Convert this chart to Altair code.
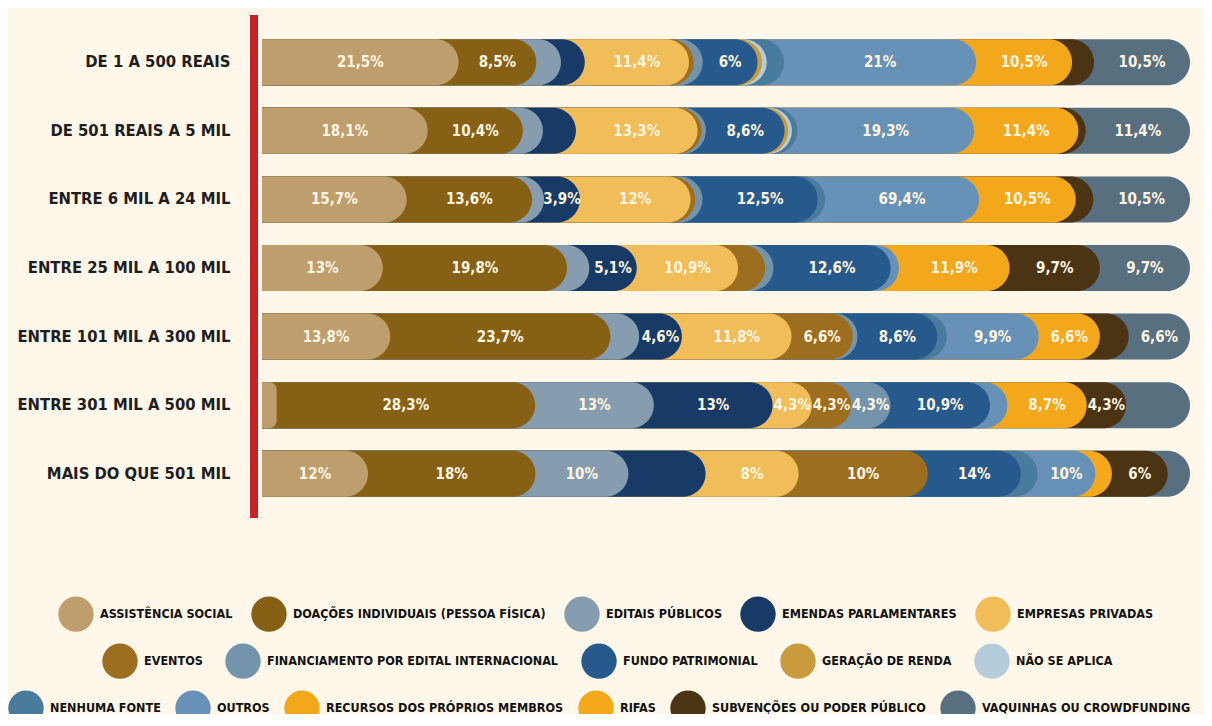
import altair as alt
import pandas as pd

FONT = "DejaVu Sans Condensed, sans-serif"

rows = [
    "DE 1 A 500 REAIS",
    "DE 501 REAIS A 5 MIL",
    "ENTRE 6 MIL A 24 MIL",
    "ENTRE 25 MIL A 100 MIL",
    "ENTRE 101 MIL A 300 MIL",
    "ENTRE 301 MIL A 500 MIL",
    "MAIS DO QUE 501 MIL",
]

categories = [
    "ASSISTÊNCIA SOCIAL",
    "DOAÇÕES INDIVIDUAIS (PESSOA FÍSICA)",
    "EDITAIS PÚBLICOS",
    "EMENDAS PARLAMENTARES",
    "EMPRESAS PRIVADAS",
    "EVENTOS",
    "FINANCIAMENTO POR EDITAL INTERNACIONAL",
    "FUNDO PATRIMONIAL",
    "GERAÇÃO DE RENDA",
    "NÃO SE APLICA",
    "NENHUMA FONTE",
    "OUTROS",
    "RECURSOS DOS PRÓPRIOS MEMBROS",
    "RIFAS",
    "SUBVENÇÕES OU PODER PÚBLICO",
    "VAQUINHAS OU CROWDFUNDING",
]

colors = [
    "#BE9E6D", "#866014", "#869DB0", "#173A66", "#F0BD59", "#9D6E1F",
    "#7394AB", "#265A8C", "#C99B3D", "#B5CCDA", "#497B9C", "#6891B8",
    "#F3A81B", "#F4A91B", "#4A3414", "#586F7F",
]

# segment widths (share of each row)
values_r1 = [21.5, 8.5, 2.7, 2.6, 11.4, 0.5, 1.0, 6.0, 0.5, 0.5, 1.9, 21.0, 10.5, 0, 2.4, 10.5]
values_r2 = [18.1, 10.4, 2.2, 3.6, 13.3, 0.4, 0.5, 8.6, 0.4, 0.4, 0.6, 19.3, 11.4, 0, 0.8, 11.4]
values_r3 = [15.7, 13.6, 1.3, 3.9, 12.0, 0.5, 0.8, 12.5, 0, 0, 0.8, 16.7, 10.5, 0, 1.9, 10.5]
values_r4 = [13.0, 19.8, 2.4, 5.1, 10.9, 2.9, 0.9, 12.6, 0, 0, 0, 0.9, 11.9, 0, 9.7, 9.7]
values_r5 = [13.8, 23.7, 3.1, 4.6, 11.8, 6.6, 0.5, 8.6, 0, 0, 1.0, 9.9, 6.6, 0, 3.1, 6.6]
values_r6 = [1.6, 28.3, 13.0, 13.0, 4.3, 4.3, 4.3, 10.9, 0, 0, 0, 1.9, 8.7, 0, 4.3, 7.0]
values_r7 = [11.4, 18.0, 10.0, 8.3, 10.0, 13.9, 0, 10.0, 0, 0, 1.8, 6.2, 0, 1.8, 6.0, 2.4]

# printed labels
labels_r1 = ["21,5%", "8,5%", "", "", "11,4%", "", "", "6%", "", "", "", "21%", "10,5%", "", "", "10,5%"]
labels_r2 = ["18,1%", "10,4%", "", "", "13,3%", "", "", "8,6%", "", "", "", "19,3%", "11,4%", "", "", "11,4%"]
labels_r3 = ["15,7%", "13,6%", "", "3,9%", "12%", "", "", "12,5%", "", "", "", "69,4%", "10,5%", "", "", "10,5%"]
labels_r4 = ["13%", "19,8%", "", "5,1%", "10,9%", "", "", "12,6%", "", "", "", "", "11,9%", "", "9,7%", "9,7%"]
labels_r5 = ["13,8%", "23,7%", "", "4,6%", "11,8%", "6,6%", "", "8,6%", "", "", "", "9,9%", "6,6%", "", "", "6,6%"]
labels_r6 = ["", "28,3%", "13%", "13%", "4,3%", "4,3%", "4,3%", "10,9%", "", "", "", "", "8,7%", "", "4,3%", ""]
labels_r7 = ["12%", "18%", "10%", "", "8%", "10%", "", "14%", "", "", "", "10%", "", "", "6%", ""]

all_values = [values_r1, values_r2, values_r3, values_r4, values_r5, values_r6, values_r7]
all_labels = [labels_r1, labels_r2, labels_r3, labels_r4, labels_r5, labels_r6, labels_r7]

legend_row_a = categories[0:5]
legend_row_b = categories[5:10]
legend_row_c = categories[10:16]

records = []
for r, vals, labs in zip(rows, all_values, all_labels):
    total = sum(vals)
    cum = 0.0
    for c, v, lab in zip(categories, vals, labs):
        if v <= 0:
            continue
        start = cum / total * 100
        cum += v
        end = cum / total * 100
        records.append({"row": r, "cat": c, "end": end, "mid": (start + end) / 2, "label": lab})

df = pd.DataFrame(records).sort_values("end", ascending=False).reset_index(drop=True)
df_lab = df[df["label"] != ""]

yenc = alt.Y(
    "row:N",
    sort=rows,
    title=None,
    scale=alt.Scale(paddingInner=0, paddingOuter=0),
    axis=alt.Axis(domain=False, ticks=False, labelFont=FONT, labelFontSize=16.5,
                  labelFontWeight="bold", labelColor="#1E1E1E", labelPadding=32,
                  labelLimit=0),
)
xscale = alt.Scale(domain=[0, 100], nice=False, zero=True)

bars = alt.Chart(df).mark_bar(height=46, cornerRadiusEnd=23).encode(
    y=yenc,
    x=alt.X("end:Q", stack=None, scale=xscale, axis=None),
    color=alt.Color("cat:N", scale=alt.Scale(domain=categories, range=colors), legend=None),
    order=alt.Order("end:Q", sort="descending"),
)

text = alt.Chart(df_lab).mark_text(
    font=FONT, fontSize=15, fontWeight="bold", color="#FFF5E1",
    align="center", baseline="middle",
).encode(
    y=alt.Y("row:N", sort=rows),
    x=alt.X("mid:Q", scale=xscale),
    text="label:N",
)

redline = alt.Chart(alt.Data(values=[{"a": 1}])).mark_rule(
    color="#C62127", strokeWidth=8
).encode(x=alt.value(-8), y=alt.value(-13), y2=alt.value(490))


def legend_layer(cats, lx, ly, colpad):
    d = pd.DataFrame({"cat": cats})
    cols = [colors[categories.index(c)] for c in cats]
    return alt.Chart(d).mark_point(filled=True, opacity=0, size=1).encode(
        x=alt.value(0),
        y=alt.value(0),
        color=alt.Color(
            "cat:N",
            scale=alt.Scale(domain=cats, range=cols),
            legend=alt.Legend(
                orient="none", legendX=lx, legendY=ly, direction="horizontal",
                title=None, symbolType="circle", symbolSize=1250, symbolOpacity=1,
                symbolStrokeWidth=0, labelFont=FONT, labelFontSize=12.5,
                labelFontWeight="bold", labelColor="#111111", labelOffset=6,
                columnPadding=colpad, padding=0, labelLimit=0,
            ),
        ),
    )


chart = alt.layer(
    bars, text, redline,
    legend_layer(legend_row_a, -204, 568, 18),
    legend_layer(legend_row_b, -160, 615, 22),
    legend_layer(legend_row_c, -254, 662, 14),
).resolve_scale(color="independent").properties(
    width=928,
    height=480,
    padding={"left": 254, "top": 20, "right": 14, "bottom": 206},
    autosize=alt.AutoSizeParams(type="none"),
    background="#FEF7EA",
).configure_view(stroke=None)

chart.save("out.html", embed_options={"renderer": "svg", "actions": False})
